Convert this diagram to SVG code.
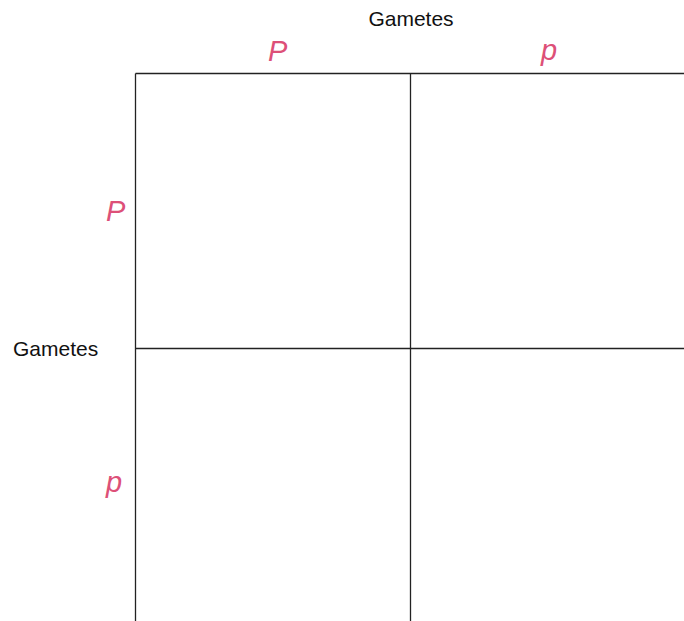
<svg xmlns="http://www.w3.org/2000/svg" width="684" height="621" viewBox="0 0 684 621">
<style>
.lbl{font-family:"Liberation Sans",Arial,sans-serif;font-size:21px;fill:#111}
.al{font-family:"Liberation Sans",Arial,sans-serif;font-size:29px;font-style:italic;fill:#dd5078}
.grid line{stroke:#222;stroke-width:1.3}
</style>
<rect width="684" height="621" fill="#fff"/>
<g id="grid" class="grid">
<line x1="135.5" y1="73.5" x2="684" y2="73.5"/>
<line x1="135.5" y1="348.5" x2="684" y2="348.5"/>
<line x1="135.5" y1="73.5" x2="135.5" y2="621"/>
<line x1="410.5" y1="73.5" x2="410.5" y2="621"/>
</g>
<g id="label-top"><text class="lbl" x="411" y="26" text-anchor="middle">Gametes</text></g>
<g id="label-left"><text class="lbl" x="13" y="356">Gametes</text></g>
<g id="top-P"><text class="al" x="268" y="61">P</text></g>
<g id="top-p"><text class="al" x="541" y="60">p</text></g>
<g id="left-P"><text class="al" x="106" y="221">P</text></g>
<g id="left-p"><text class="al" x="106" y="492">p</text></g>
</svg>
